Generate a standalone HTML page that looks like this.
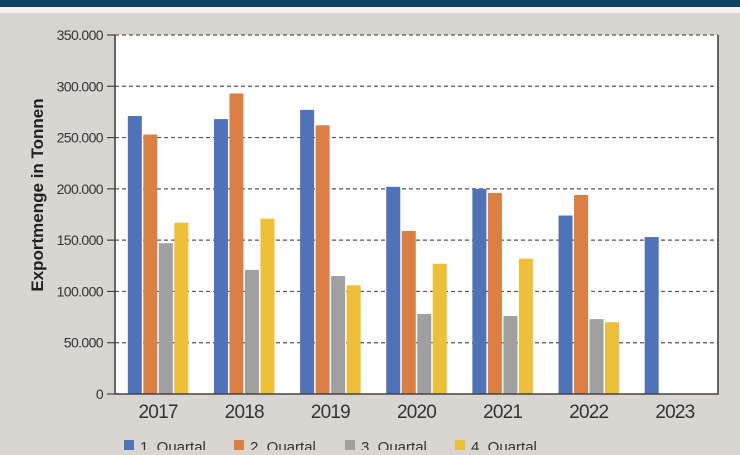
<!DOCTYPE html>
<html><head><meta charset="utf-8"><style>
body{margin:0;width:740px;height:450px;overflow:hidden;background:#d9d6d2;font-family:"Liberation Sans",sans-serif}
</style></head><body>
<svg id="c" width="740" height="450" xmlns="http://www.w3.org/2000/svg">
<rect x="0" y="0" width="740" height="7" fill="#0b4366"/>
<rect x="0" y="7" width="740" height="6" fill="#f4f3f1"/>
<rect x="115" y="35" width="603" height="359" fill="#fff"/>
<g id="grid"></g><g id="bars"></g><g id="axes"></g>
<text transform="translate(43,195) rotate(-90)" text-anchor="middle" font-size="17" font-weight="bold" fill="#222">Exportmenge in Tonnen</text>
<g id="legend"></g>
</svg>
<script>
const years=["2017","2018","2019","2020","2021","2022","2023"];
const q1=[271000,268000,277000,202000,200000,174000,153000];
const q2=[253000,293000,262000,159000,196000,194000,null];
const q3=[147000,121000,115000,78000,76000,73000,null];
const q4=[167000,171000,106000,127000,132000,70000,null];
const ticks=[0,50000,100000,150000,200000,250000,300000,350000];
const tickLabels=["0","50.000","100.000","150.000","200.000","250.000","300.000","350.000"];
const seriesNames=["1. Quartal","2. Quartal","3. Quartal","4. Quartal"];
const colors=["#4f72b8","#dc7f45","#a0a0a0","#edbf3a"];
const NS="http://www.w3.org/2000/svg";
const X0=115,X1=718,Y0=394,Y1=35,MAX=350000;
const y=v=>Y0-(v/MAX)*(Y0-Y1);
const gw=(X1-X0)/years.length;
const xc=i=>X0+gw*(i+0.5);
function mk(t,a,p){const e=document.createElementNS(NS,t);for(const k in a)e.setAttribute(k,a[k]);p.appendChild(e);return e;}
const grid=document.getElementById('grid'),axes=document.getElementById('axes'),bars=document.getElementById('bars'),leg=document.getElementById('legend');
ticks.forEach((t,i)=>{
 if(t>0){const l=mk('line',{x1:X0,x2:X1,y1:y(t),y2:y(t),stroke:'#555','stroke-width':1.2,'stroke-dasharray':'4,3'},grid);
 
 }
 const tk=mk('line',{x1:X0-8,x2:X0,y1:y(t),y2:y(t),stroke:'#444','stroke-width':1.2},axes);
 
 
 const tx=mk('text',{x:X0-12,y:y(t)+5,'text-anchor':'end','font-size':14,fill:'#333','letter-spacing':'-0.6'},axes);
 tx.textContent=tickLabels[i];
 
 
});
const series=[q1,q2,q3,q4];
const bw=14,step=15.5;
series.forEach((s,si)=>{s.forEach((v,i)=>{if(v==null)return;
 const r=mk('rect',{x:xc(i)-2*step+si*step+0.75,y:y(v),width:bw,height:Y0-y(v),fill:colors[si]},bars);
 
 
});});
const ax=mk('path',{d:`M${X0},${Y1} V${Y0} H${X1} V${Y1}`,fill:'none',stroke:'#444','stroke-width':1.6},axes);


years.forEach((yr,i)=>{const t=mk('text',{x:xc(i),y:418,'text-anchor':'middle','font-size':19,fill:'#333','letter-spacing':'-0.8'},axes);
 t.textContent=yr;
 
 });
const lx=[124,234,345,455];
seriesNames.forEach((n,i)=>{
 const r=mk('rect',{x:lx[i],y:440,width:10,height:12,fill:colors[i]},leg);
 
 
 const t=mk('text',{x:lx[i]+16,y:452,'font-size':15,fill:'#333'},leg);
 t.textContent=n;
 
 
});
</script>
</body></html>
